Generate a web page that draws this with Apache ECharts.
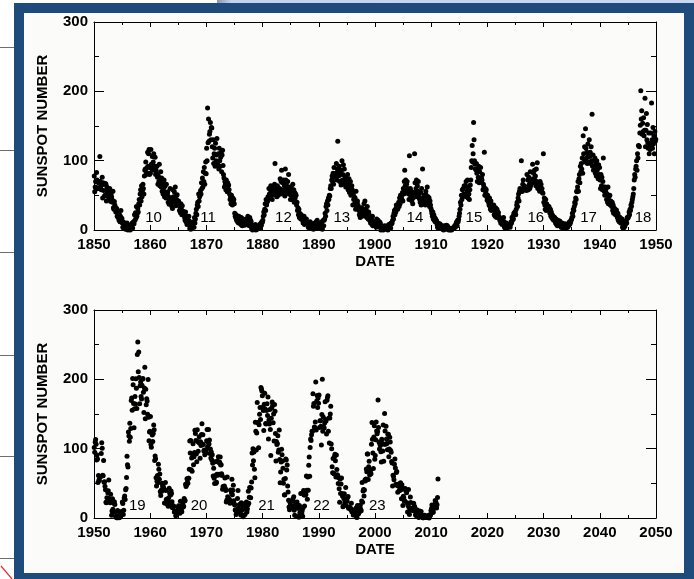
<!DOCTYPE html>
<html>
<head>
<meta charset="utf-8">
<script src="https://cdn.jsdelivr.net/npm/echarts@6/dist/echarts.min.js"></script>
<style>
  html, body { margin: 0; padding: 0; background: #fff; }
  #chart { width: 694px; height: 579px; }
</style>
</head>
<body>
<div id="chart"></div>
<script>
// Monthly sunspot numbers, one row per year (Jan..Dec)
var ssn1850s = [
  78, 55, 62, 70, 59, 83, 72, 61, 60, 68, 70, 60,
  106, 70, 63, 58, 65, 76, 46, 68, 57, 66, 49, 50,
  67, 66, 42, 62, 54, 60, 48, 55, 44, 60, 52, 41,
  52, 48, 44, 40, 56, 32, 30, 41, 36, 33, 26, 30,
  31, 20, 24, 18, 25, 14, 22, 12, 20, 28, 16, 17,
  10, 4, 12, 2, 6, 4, 8, 1, 9, 8, 10, 6,
  0, 3, 5, 2, 1, 0, 4, 8, 6, 10, 3, 10,
  12, 9, 22, 14, 25, 17, 34, 20, 24, 31, 26, 38,
  44, 36, 52, 58, 42, 64, 48, 57, 66, 60, 52, 78,
  86, 88, 98, 80, 83, 90, 112, 92, 110, 116, 80, 90
];
var ssn1860s = [
  82, 116, 95, 88, 106, 92, 98, 110, 86, 92, 105, 80,
  86, 82, 92, 76, 66, 78, 70, 95, 64, 72, 84, 62,
  75, 56, 68, 52, 60, 72, 48, 63, 54, 46, 66, 49,
  52, 55, 40, 48, 37, 44, 60, 38, 42, 35, 46, 31,
  58, 48, 42, 55, 40, 62, 35, 50, 44, 51, 39, 40,
  42, 36, 28, 33, 25, 38, 30, 22, 35, 26, 27, 24,
  22, 18, 14, 26, 12, 20, 8, 15, 18, 10, 20, 13,
  2, 5, 1, 8, 10, 3, 6, 9, 12, 4, 18, 10,
  16, 24, 30, 22, 36, 40, 34, 52, 42, 48, 50, 57,
  52, 68, 60, 75, 62, 84, 70, 90, 66, 82, 98, 81
];
var ssn1870s = [
  118, 100, 176, 126, 160, 128, 138, 142, 155, 130, 148, 147,
  120, 104, 130, 96, 110, 118, 92, 125, 100, 108, 132, 99,
  94, 110, 88, 118, 100, 92, 105, 112, 84, 108, 115, 93,
  80, 75, 62, 70, 66, 58, 72, 60, 55, 68, 64, 65,
  58, 52, 44, 48, 38, 50, 42, 36, 46, 40, 44, 38,
  24, 20, 18, 22, 14, 16, 12, 18, 10, 20, 15, 15,
  14, 8, 18, 12, 6, 10, 16, 9, 14, 7, 12, 10,
  10, 16, 8, 14, 20, 9, 12, 6, 18, 10, 14, 12,
  2, 5, 0, 4, 1, 6, 3, 2, 8, 0, 5, 5,
  1, 3, 2, 4, 5, 8, 3, 6, 10, 7, 12, 11
];
var ssn1880s = [
  14, 20, 26, 22, 30, 38, 28, 44, 36, 40, 42, 48,
  46, 60, 52, 48, 58, 64, 50, 62, 44, 56, 52, 60,
  52, 66, 96, 50, 62, 56, 48, 64, 62, 50, 56, 54,
  60, 74, 56, 70, 86, 52, 68, 58, 72, 55, 64, 49,
  88, 72, 66, 60, 54, 70, 58, 80, 52, 62, 56, 44,
  50, 62, 56, 44, 66, 48, 58, 40, 54, 46, 52, 50,
  36, 40, 28, 32, 22, 30, 18, 24, 20, 16, 22, 17,
  18, 14, 10, 16, 20, 8, 12, 14, 10, 16, 9, 10,
  10, 4, 8, 6, 2, 12, 5, 9, 3, 8, 6, 9,
  1, 8, 3, 10, 5, 2, 12, 4, 14, 6, 2, 9
];
var ssn1890s = [
  4, 2, 6, 10, 3, 8, 12, 1, 5, 14, 6, 14,
  16, 24, 20, 34, 38, 28, 42, 36, 46, 44, 50, 49,
  60, 64, 60, 72, 78, 70, 82, 66, 90, 76, 80, 78,
  82, 96, 72, 88, 128, 84, 78, 92, 70, 86, 80, 65,
  86, 100, 72, 80, 94, 66, 88, 70, 76, 62, 74, 68,
  72, 80, 58, 66, 74, 54, 62, 70, 50, 60, 64, 58,
  36, 52, 44, 48, 38, 46, 30, 56, 34, 40, 42, 36,
  34, 28, 22, 30, 18, 26, 24, 32, 20, 28, 22, 30,
  38, 30, 42, 24, 20, 28, 18, 34, 22, 16, 26, 22,
  14, 18, 10, 12, 16, 8, 20, 6, 12, 10, 9, 10
];
var ssn1900s = [
  8, 12, 4, 16, 6, 10, 14, 5, 12, 7, 11, 9,
  0, 3, 1, 5, 2, 0, 4, 1, 6, 2, 4, 4,
  1, 3, 6, 0, 4, 8, 2, 5, 9, 3, 10, 9,
  10, 14, 20, 16, 24, 28, 22, 30, 26, 36, 32, 35,
  30, 36, 40, 34, 46, 38, 50, 42, 48, 44, 54, 42,
  60, 52, 70, 86, 64, 72, 56, 66, 70, 60, 54, 52,
  44, 107, 52, 60, 48, 56, 42, 50, 38, 46, 54, 49,
  110, 68, 54, 60, 72, 48, 64, 56, 70, 52, 46, 44,
  40, 54, 36, 60, 44, 88, 46, 38, 50, 42, 48, 36,
  56, 50, 44, 62, 38, 48, 40, 46, 34, 42, 36, 31
];
var ssn1910s = [
  28, 24, 20, 26, 16, 22, 14, 18, 12, 16, 14, 13,
  8, 4, 10, 2, 6, 5, 9, 3, 7, 4, 6, 4,
  1, 4, 0, 6, 3, 2, 5, 1, 7, 4, 6, 4,
  2, 0, 3, 1, 0, 1, 2, 0, 1, 3, 2, 2,
  3, 5, 6, 4, 8, 10, 12, 6, 14, 12, 15, 20,
  24, 30, 40, 36, 50, 44, 58, 48, 60, 52, 64, 63,
  50, 64, 70, 48, 56, 72, 46, 60, 52, 44, 58, 65,
  72, 90, 100, 122, 98, 110, 155, 130, 100, 95, 88, 87,
  96, 82, 70, 88, 76, 92, 68, 84, 74, 90, 72, 75,
  72, 80, 58, 66, 62, 112, 50, 60, 54, 58, 48, 43
];
var ssn1920s = [
  50, 44, 40, 36, 46, 34, 30, 42, 28, 36, 32, 33,
  30, 36, 22, 28, 20, 32, 24, 18, 30, 22, 26, 25,
  20, 18, 14, 16, 10, 12, 16, 8, 14, 12, 18, 12,
  4, 8, 2, 6, 10, 3, 7, 4, 6, 5, 8, 7,
  4, 8, 12, 10, 18, 14, 20, 16, 24, 22, 26, 26,
  22, 30, 36, 40, 34, 46, 52, 42, 56, 60, 58, 56,
  100, 56, 56, 66, 72, 60, 64, 58, 60, 60, 58, 57,
  80, 62, 72, 58, 76, 66, 60, 84, 64, 70, 68, 68,
  95, 74, 82, 68, 86, 72, 78, 64, 88, 70, 97, 60,
  68, 62, 60, 56, 70, 62, 66, 58, 60, 54, 53, 110
];
var ssn1930s = [
  40, 46, 36, 30, 44, 28, 38, 36, 32, 34, 30, 34,
  28, 24, 30, 20, 26, 18, 22, 16, 20, 14, 18, 18,
  14, 10, 16, 8, 12, 6, 14, 10, 8, 12, 13, 10,
  8, 4, 6, 10, 3, 5, 2, 7, 4, 9, 3, 7,
  3, 6, 5, 4, 8, 10, 7, 12, 9, 11, 14, 15,
  18, 24, 20, 30, 28, 34, 40, 38, 46, 44, 56, 55,
  62, 70, 56, 74, 80, 68, 92, 84, 96, 88, 104, 82,
  136, 110, 102, 120, 98, 146, 118, 104, 112, 96, 124, 107,
  98, 130, 106, 112, 96, 120, 100, 167, 92, 108, 86, 100,
  90, 104, 82, 96, 78, 100, 86, 92, 74, 94, 80, 90
];
var ssn1940s = [
  72, 60, 80, 64, 76, 58, 70, 104, 62, 56, 50, 62,
  56, 60, 44, 52, 40, 62, 38, 48, 42, 50, 36, 42,
  38, 34, 40, 28, 36, 24, 32, 26, 30, 22, 28, 29,
  22, 18, 24, 14, 20, 12, 16, 18, 10, 14, 12, 16,
  4, 8, 2, 6, 10, 5, 12, 9, 14, 10, 18, 17,
  18, 20, 26, 22, 30, 28, 36, 34, 40, 44, 48, 52,
  60, 72, 80, 76, 88, 92, 100, 86, 110, 104, 122, 121,
  120, 140, 151, 201, 160, 172, 138, 154, 142, 162, 136, 144,
  190, 120, 144, 168, 130, 152, 126, 118, 140, 110, 122, 116,
  140, 126, 183, 130, 118, 148, 124, 136, 110, 142, 128, 131
];
var ssn1950s = [
  101.6, 94.8, 109.7, 113.4, 106.2, 83.6, 91.0, 85.2, 51.3, 61.4, 54.8, 54.1,
  59.9, 59.9, 59.9, 92.9, 108.5, 100.6, 61.5, 61.0, 83.1, 51.6, 52.4, 45.8,
  40.7, 22.7, 22.0, 29.1, 23.4, 36.4, 39.3, 54.9, 28.2, 23.8, 22.1, 34.3,
  26.5, 3.9, 10.0, 27.8, 12.5, 21.8, 8.6, 23.5, 19.3, 8.2, 1.6, 2.5,
  0.2, 0.5, 10.9, 1.8, 0.8, 0.2, 4.8, 8.4, 1.5, 7.0, 9.2, 7.6,
  23.1, 20.8, 4.9, 11.3, 28.9, 31.7, 26.7, 40.7, 42.7, 58.5, 89.2, 76.9,
  73.6, 124.0, 118.4, 110.7, 136.6, 116.6, 129.1, 169.6, 173.2, 155.3, 201.3, 192.1,
  165.0, 130.2, 157.4, 175.2, 164.6, 200.7, 187.2, 158.0, 235.8, 253.8, 210.9, 239.4,
  202.5, 164.9, 190.7, 196.0, 175.3, 171.5, 191.4, 200.2, 201.2, 181.5, 152.3, 187.6,
  217.4, 143.1, 185.7, 163.3, 172.0, 168.7, 149.6, 199.6, 145.2, 111.4, 124.0, 125.0
];
var ssn1960s = [
  146.3, 106.0, 102.2, 122.0, 119.6, 110.2, 121.7, 134.1, 127.2, 82.8, 89.6, 85.6,
  57.9, 46.1, 53.0, 61.4, 51.0, 77.4, 70.2, 55.9, 63.6, 37.7, 32.6, 40.0,
  38.7, 50.3, 45.6, 46.4, 43.7, 42.0, 21.8, 21.8, 51.3, 39.5, 26.9, 23.2,
  19.8, 24.4, 17.1, 29.3, 43.0, 35.9, 19.6, 33.2, 38.8, 35.3, 23.4, 14.9,
  15.3, 17.7, 16.5, 8.6, 9.5, 9.1, 3.1, 9.3, 4.7, 6.1, 7.4, 15.1,
  17.5, 14.2, 11.7, 6.8, 24.1, 15.9, 11.9, 8.9, 16.8, 20.1, 15.8, 17.0,
  28.2, 24.4, 25.3, 48.7, 45.3, 47.7, 56.7, 51.2, 50.2, 57.2, 57.2, 70.4,
  110.9, 93.6, 111.8, 69.5, 86.5, 67.3, 91.5, 107.2, 76.8, 88.2, 94.3, 126.4,
  121.8, 111.9, 92.2, 81.2, 127.2, 110.3, 96.1, 109.3, 117.2, 107.7, 86.0, 109.8,
  104.4, 120.5, 135.8, 106.8, 120.0, 106.0, 96.8, 98.0, 91.3, 95.7, 93.5, 97.9
];
var ssn1970s = [
  111.5, 127.8, 102.9, 109.5, 127.5, 106.8, 112.5, 93.0, 99.5, 86.6, 95.2, 83.5,
  91.3, 79.0, 60.7, 71.8, 57.5, 49.8, 81.0, 61.4, 50.2, 51.7, 63.2, 82.2,
  61.5, 88.4, 80.1, 63.2, 80.5, 88.0, 76.5, 76.8, 64.0, 61.3, 41.6, 45.3,
  43.4, 42.9, 46.0, 57.7, 42.4, 39.5, 23.1, 25.6, 59.3, 30.7, 23.9, 23.3,
  27.6, 26.0, 21.3, 40.3, 39.5, 36.0, 55.8, 33.6, 40.2, 47.1, 25.0, 20.5,
  18.9, 11.5, 11.5, 5.1, 9.0, 11.4, 28.2, 39.7, 13.9, 9.1, 19.4, 7.8,
  8.1, 4.3, 21.9, 18.8, 12.4, 12.2, 1.9, 16.4, 13.5, 20.6, 5.2, 15.3,
  16.4, 23.1, 8.7, 12.9, 18.6, 38.5, 21.4, 30.1, 44.0, 43.8, 29.1, 43.2,
  51.9, 93.6, 76.5, 99.7, 82.7, 95.1, 70.4, 58.1, 138.2, 125.1, 97.9, 122.7,
  166.6, 137.5, 138.0, 101.5, 134.4, 149.5, 159.4, 142.2, 188.4, 186.2, 183.3, 176.3
];
var ssn1980s = [
  159.6, 155.0, 126.2, 164.1, 179.9, 157.3, 136.3, 135.4, 155.0, 164.7, 147.9, 174.4,
  114.0, 141.3, 135.5, 156.4, 127.5, 90.0, 143.8, 158.7, 167.3, 162.4, 137.5, 150.1,
  111.2, 163.6, 153.8, 122.0, 82.2, 110.4, 106.1, 107.6, 118.8, 94.7, 98.1, 127.0,
  84.3, 51.0, 66.5, 80.7, 99.2, 91.1, 82.2, 71.8, 50.3, 55.8, 33.3, 33.4,
  57.0, 85.1, 83.5, 69.4, 76.4, 46.1, 37.4, 25.5, 15.7, 12.0, 22.8, 18.7,
  16.5, 15.9, 17.2, 16.2, 27.5, 24.2, 30.7, 11.1, 3.9, 18.6, 16.2, 17.3,
  2.5, 23.2, 15.1, 18.5, 13.7, 1.1, 18.1, 7.4, 3.8, 35.4, 15.2, 6.8,
  10.4, 2.4, 14.7, 39.6, 33.0, 17.4, 33.0, 38.7, 33.9, 60.6, 39.9, 27.1,
  59.0, 40.0, 76.2, 88.0, 60.1, 101.8, 113.8, 111.6, 120.1, 125.1, 125.1, 179.2,
  161.3, 165.1, 131.4, 130.5, 138.5, 196.2, 126.8, 168.9, 176.7, 159.4, 173.0, 165.5
];
var ssn1990s = [
  177.3, 130.5, 140.3, 140.3, 132.2, 105.4, 149.4, 200.3, 125.2, 145.5, 131.4, 129.7,
  136.9, 167.5, 141.9, 140.0, 121.3, 169.7, 173.7, 176.3, 125.3, 144.1, 108.2, 144.4,
  150.0, 161.1, 106.7, 99.8, 73.8, 65.2, 85.7, 64.5, 63.9, 88.7, 91.8, 82.6,
  59.3, 91.0, 69.8, 62.2, 61.3, 49.8, 57.9, 42.3, 22.8, 56.1, 35.3, 48.9,
  57.8, 35.5, 31.7, 16.1, 17.8, 28.0, 35.1, 22.5, 25.7, 44.0, 18.0, 26.2,
  24.2, 29.9, 31.1, 14.0, 14.5, 15.6, 14.5, 14.3, 11.8, 21.1, 9.0, 10.0,
  11.5, 4.4, 9.2, 4.8, 5.5, 11.8, 8.2, 14.4, 1.6, 0.9, 17.9, 13.3,
  5.7, 7.6, 8.7, 15.5, 18.5, 12.7, 10.4, 24.4, 51.3, 22.8, 39.0, 41.2,
  31.9, 40.3, 54.8, 53.4, 56.3, 70.7, 66.6, 92.2, 92.2, 55.5, 74.0, 81.9,
  62.0, 66.3, 68.8, 63.7, 106.4, 137.7, 113.5, 93.7, 71.5, 116.7, 133.2, 84.6
];
var ssn2000s = [
  90.1, 112.9, 138.5, 125.5, 121.6, 124.9, 170.1, 130.5, 109.7, 99.4, 106.8, 104.4,
  95.6, 80.6, 113.5, 107.7, 96.6, 134.0, 81.8, 106.4, 150.7, 125.5, 106.5, 132.2,
  114.1, 107.4, 98.4, 120.7, 120.8, 88.3, 99.6, 116.4, 109.6, 97.5, 95.0, 81.6,
  79.5, 46.2, 61.5, 60.0, 55.2, 77.4, 85.0, 72.1, 48.8, 65.6, 67.2, 47.0,
  37.2, 46.0, 48.9, 39.3, 39.5, 43.2, 51.0, 40.9, 27.7, 48.0, 43.5, 17.9,
  31.3, 29.2, 24.5, 24.4, 42.6, 39.6, 39.9, 36.4, 22.1, 8.5, 18.0, 41.2,
  15.4, 5.0, 10.8, 30.2, 22.2, 13.9, 12.2, 12.9, 14.4, 10.5, 21.4, 13.6,
  16.9, 10.6, 4.8, 3.7, 11.7, 12.0, 10.0, 6.2, 2.4, 0.9, 1.7, 10.1,
  3.3, 2.1, 9.3, 2.9, 3.2, 3.4, 0.5, 0.5, 1.1, 2.9, 4.1, 0.8,
  1.5, 1.4, 0.7, 0.8, 2.9, 2.9, 3.2, 0.0, 4.3, 4.8, 4.1, 10.8
];
var ssn2010s = [
  13.2, 18.8, 15.4, 8.0, 8.7, 13.6, 16.1, 19.6, 25.2, 23.5, 21.6, 14.5,
  19.0, 29.4, 56.2
];

// Solar cycle numbers and where they sit (year, sunspot number)
var cyclesTop = ['10', '11', '12', '13', '14', '15', '16', '17', '18'];
var cycleYearsTop = [1860.6, 1870.3, 1883.7, 1894.1, 1907.1, 1917.6, 1928.6, 1938.0, 1947.7];
var cyclesBottom = ['19', '20', '21', '22', '23'];
var cycleYearsBottom = [1957.7, 1968.7, 1980.7, 1990.5, 2000.4];
var cycleLabelY = 17;

var yTicks = [0, 100, 200, 300];

function monthly(startYear, vals) {
  return vals.map(function (v, i) { return [startYear + (i + 0.5) / 12, v]; });
}

var topData = [].concat(
  monthly(1850, ssn1850s), monthly(1860, ssn1860s), monthly(1870, ssn1870s),
  monthly(1880, ssn1880s), monthly(1890, ssn1890s), monthly(1900, ssn1900s),
  monthly(1910, ssn1910s), monthly(1920, ssn1920s), monthly(1930, ssn1930s),
  monthly(1940, ssn1940s)
);
var bottomData = [].concat(
  monthly(1950, ssn1950s), monthly(1960, ssn1960s), monthly(1970, ssn1970s),
  monthly(1980, ssn1980s), monthly(1990, ssn1990s), monthly(2000, ssn2000s),
  monthly(2010, ssn2010s)
);

var FONT = "'Liberation Sans', Arial, Helvetica, sans-serif";

function plain(v) { return String(v); }

function xAxis(grid, min, max, pos) {
  var bottom = pos === 'bottom';
  return {
    type: 'value', gridIndex: grid, position: pos, min: min, max: max, interval: 10,
    name: bottom ? 'DATE' : '', nameLocation: 'middle', nameGap: 24,
    nameTextStyle: { color: '#000', fontSize: 15, fontWeight: 'bold', fontFamily: FONT },
    axisLine: { show: true, onZero: false, lineStyle: { color: '#000', width: 1 } },
    axisTick: { show: true, inside: true, length: 5, lineStyle: { color: '#000' } },
    minorTick: { show: true, splitNumber: 2, length: 3, lineStyle: { color: '#000' } },
    axisLabel: { show: bottom, formatter: plain, color: '#000', fontSize: 15, fontWeight: 'bold', fontFamily: FONT, margin: 7 },
    splitLine: { show: false }
  };
}

function yAxis(grid, pos) {
  var left = pos === 'left';
  return {
    type: 'value', gridIndex: grid, position: pos, min: yTicks[0], max: yTicks[yTicks.length - 1], interval: 100,
    name: left ? 'SUNSPOT NUMBER' : '', nameLocation: 'middle', nameGap: 44, nameRotate: 90,
    nameTextStyle: { color: '#000', fontSize: 15, fontWeight: 'bold', fontFamily: FONT },
    axisLine: { show: true, onZero: false, lineStyle: { color: '#000', width: 1 } },
    axisTick: { show: true, inside: true, length: 10, lineStyle: { color: '#000' } },
    minorTick: { show: true, splitNumber: 2, length: 5, lineStyle: { color: '#000' } },
    axisLabel: { show: left, formatter: plain, color: '#000', fontSize: 15, fontWeight: 'bold', fontFamily: FONT, margin: 6 },
    splitLine: { show: false }
  };
}

function cycleSeries(xi, yi, names, years) {
  return {
    type: 'scatter', xAxisIndex: xi, yAxisIndex: yi, z: 1, silent: true,
    symbolSize: 1, itemStyle: { color: 'rgba(0,0,0,0)', opacity: 1 },
    data: names.map(function (n, i) { return { value: [years[i], cycleLabelY], name: n }; }),
    label: {
      show: true, position: 'inside', formatter: '{b}',
      color: '#000', opacity: 1, fontSize: 15, fontFamily: FONT
    }
  };
}

var leftLines = [47, 150, 252, 355, 456, 558];

var myChart = echarts.init(document.getElementById('chart'));

myChart.setOption({
  backgroundColor: '#ffffff',
  animation: false,
  graphic: [
    { type: 'rect', z: -100, shape: { x: 217, y: 0, width: 477, height: 3 },
      style: { fill: new echarts.graphic.LinearGradient(0, 0, 1, 0, [
        { offset: 0, color: '#8a96a8' }, { offset: 0.03, color: '#c3d3ee' }, { offset: 1, color: '#c8d8f2' }
      ]) } },
    { type: 'rect', z: -99, shape: { x: 14, y: 3, width: 700, height: 600 }, style: { fill: '#1f4a7c' } },
    { type: 'rect', z: -98, shape: { x: 24, y: 13, width: 660, height: 560 }, style: { fill: '#fbfbf9' } }
  ].concat(leftLines.map(function (y) {
    return { type: 'line', z: -97, shape: { x1: 0, y1: y + 0.5, x2: 14, y2: y + 0.5 }, style: { stroke: '#6d6d6d', lineWidth: 1 } };
  })).concat([
    { type: 'line', z: -97, shape: { x1: 1, y1: 566, x2: 12, y2: 579 }, style: { stroke: '#e03030', lineWidth: 1.2 } }
  ]),
  grid: [
    { left: 94, top: 22, width: 562, height: 208 },
    { left: 94, top: 310, width: 562, height: 208 }
  ],
  xAxis: [
    xAxis(0, 1850, 1950, 'bottom'),
    xAxis(0, 1850, 1950, 'top'),
    xAxis(1, 1950, 2050, 'bottom'),
    xAxis(1, 1950, 2050, 'top')
  ],
  yAxis: [
    yAxis(0, 'left'),
    yAxis(0, 'right'),
    yAxis(1, 'left'),
    yAxis(1, 'right')
  ],
  series: [
    cycleSeries(0, 0, cyclesTop, cycleYearsTop),
    cycleSeries(2, 2, cyclesBottom, cycleYearsBottom),
    {
      name: 'Sunspot number 1850-1950', type: 'scatter', xAxisIndex: 0, yAxisIndex: 0, z: 3,
      symbol: 'circle', symbolSize: 5, itemStyle: { color: '#000', opacity: 1 }, data: topData
    },
    {
      name: 'Sunspot number 1950-2011', type: 'scatter', xAxisIndex: 2, yAxisIndex: 2, z: 3,
      symbol: 'circle', symbolSize: 5, itemStyle: { color: '#000', opacity: 1 }, data: bottomData
    }
  ]
});
</script>
</body>
</html>
